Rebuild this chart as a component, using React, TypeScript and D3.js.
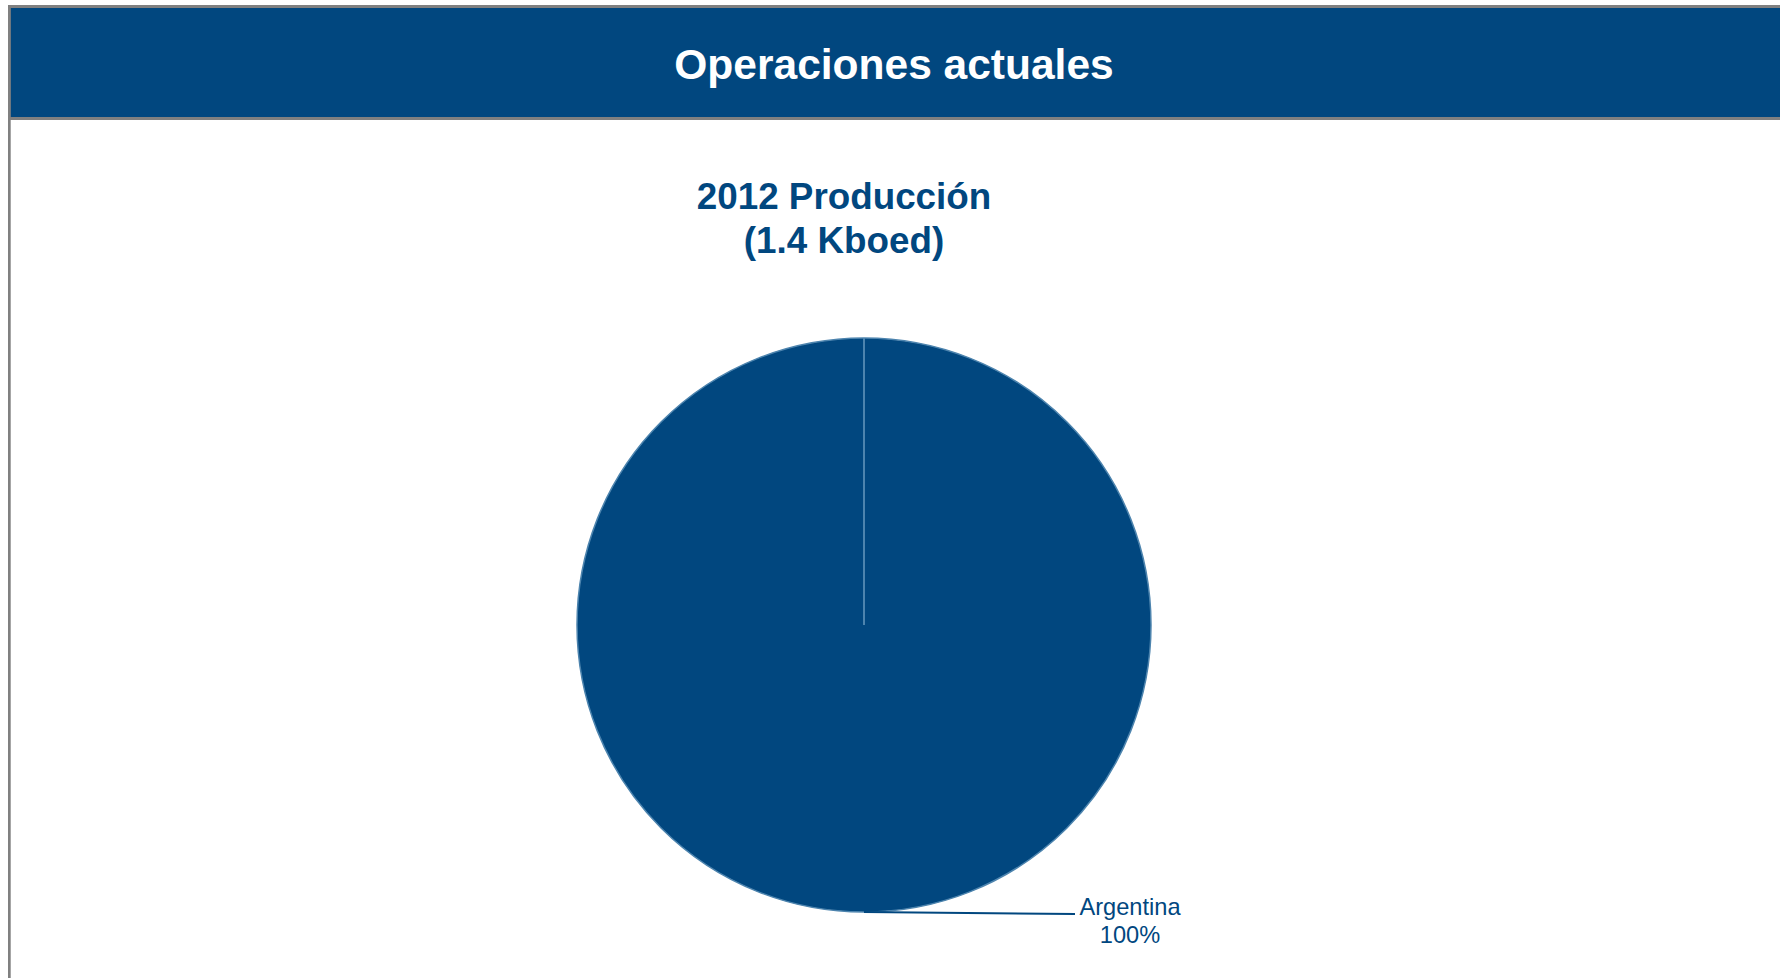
import React from "react";
import * as d3 from "d3";

const headerTitle = "Operaciones actuales";
const chartTitleLines = ["2012 Producción", "(1.4 Kboed)"];
const categories = ["Argentina"];
const values = [100];

const W = 1780;
const H = 978;
const BLUE = "#01477f";
const FONT = "'Liberation Sans', Arial, sans-serif";

export default function App() {
  const cx = 864;
  const cy = 625;
  const r = 287;
  const pie = d3.pie<number>().sort(null).value((d) => d);
  const arcs = pie(values);
  const arcGen = d3.arc<d3.PieArcDatum<number>>().innerRadius(0).outerRadius(r);
  const total = d3.sum(values);
  const pct = d3.format(".0%");

  return (
    <div style={{ position: "absolute", left: 0, top: 0 }}>
      <svg width={W} height={H} style={{ display: "block", background: "#fff" }}>
        {/* frame */}
        <rect x={0} y={0} width={W} height={H} fill="#fff" />
        <rect x={8} y={5} width={W} height={115} fill="#808080" />
        <rect x={10.5} y={8} width={W} height={109} fill={BLUE} />
        <rect x={8} y={5} width={2.7} height={H} fill="#808080" />
        <text
          x={894}
          y={79}
          textAnchor="middle"
          fill="#fff"
          fontFamily={FONT}
          fontWeight="bold"
          fontSize={42.5}
        >
          {headerTitle}
        </text>

        {/* chart title */}
        {chartTitleLines.map((t, i) => (
          <text
            key={i}
            x={844}
            y={209 + i * 44}
            textAnchor="middle"
            fill={BLUE}
            fontFamily={FONT}
            fontWeight="bold"
            fontSize={36.8}
          >
            {t}
          </text>
        ))}

        {/* pie */}
        <g transform={`translate(${cx},${cy})`}>
          {arcs.map((a, i) => {
            const [sx, sy] = d3.pointRadial(a.startAngle, r);
            return (
              <g key={i}>
                <path d={arcGen(a) || ""} fill={BLUE} stroke="#4d84ae" strokeWidth={1.5} />
                <line x1={0} y1={0} x2={sx} y2={sy} stroke="#4d84ae" strokeWidth={2} />
              </g>
            );
          })}
          {arcs.map((a, i) => {
            const mid = (a.startAngle + a.endAngle) / 2;
            const [ax, ay] = d3.pointRadial(mid, r);
            const ex = 211;
            return (
              <g key={"l" + i}>
                <line x1={ax} y1={ay} x2={ex} y2={ay + 2} stroke={BLUE} strokeWidth={2} />
                <text
                  x={ex + 55}
                  y={ay + 3}
                  textAnchor="middle"
                  fill={BLUE}
                  fontFamily={FONT}
                  fontSize={23.6}
                >
                  {categories[i]}
                </text>
                <text
                  x={ex + 55}
                  y={ay + 31}
                  textAnchor="middle"
                  fill={BLUE}
                  fontFamily={FONT}
                  fontSize={23.6}
                >
                  {pct(a.value / total)}
                </text>
              </g>
            );
          })}
        </g>
      </svg>
    </div>
  );
}
